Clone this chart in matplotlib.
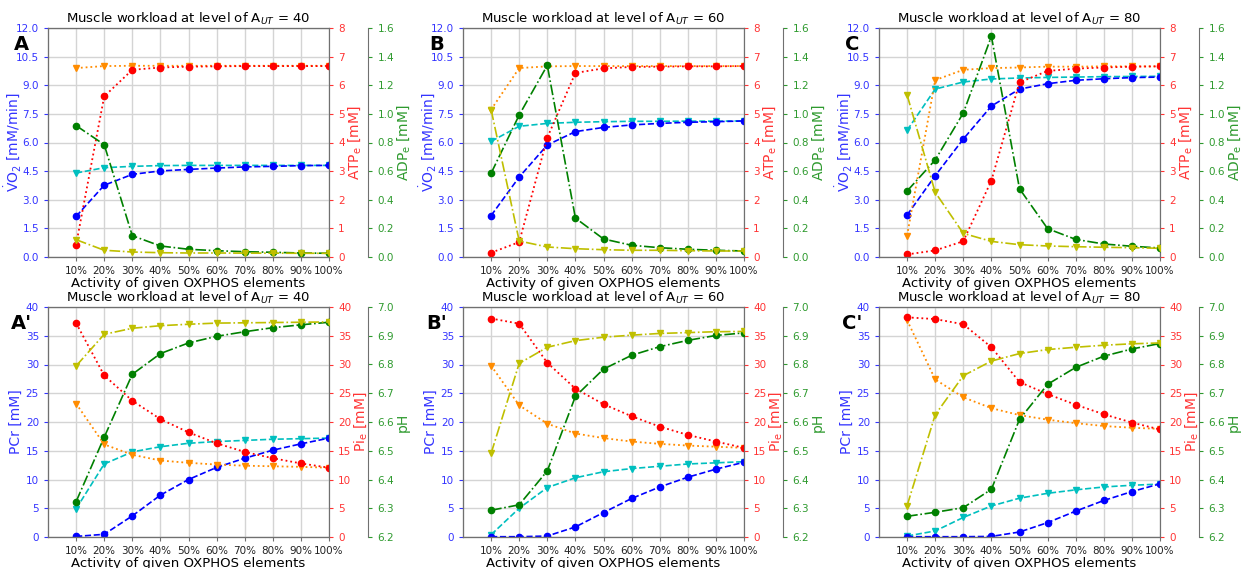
import matplotlib

matplotlib.use("Agg")
import matplotlib.pyplot as plt
from matplotlib.ticker import MultipleLocator

pct_labels = ["10%", "20%", "30%", "40%", "50%", "60%", "70%", "80%", "90%", "100%"]
x_pos = list(range(1, 11))
levels = [40, 60, 80]

# top row: VO2 (left), ATPe (red), ADPe (green); *_alt = triangle series
vo2_40 = [2.13, 3.76, 4.33, 4.51, 4.59, 4.66, 4.72, 4.75, 4.79, 4.80]
vo2_alt_40 = [4.40, 4.68, 4.75, 4.79, 4.80, 4.80, 4.80, 4.80, 4.80, 4.80]
atp_40 = [0.43, 5.61, 6.54, 6.62, 6.65, 6.66, 6.67, 6.67, 6.67, 6.67]
atp_alt_40 = [6.60, 6.67, 6.68, 6.68, 6.68, 6.68, 6.68, 6.68, 6.68, 6.68]
adp_40 = [0.918, 0.785, 0.149, 0.077, 0.054, 0.044, 0.037, 0.033, 0.028, 0.026]
adp_alt_40 = [0.121, 0.047, 0.035, 0.030, 0.028, 0.028, 0.027, 0.027, 0.026, 0.026]

vo2_60 = [2.17, 4.19, 5.87, 6.57, 6.79, 6.92, 7.00, 7.06, 7.09, 7.13]
vo2_alt_60 = [6.06, 6.85, 7.00, 7.06, 7.09, 7.11, 7.11, 7.12, 7.12, 7.13]
atp_60 = [0.15, 0.52, 4.17, 6.43, 6.59, 6.64, 6.65, 6.66, 6.66, 6.67]
atp_alt_60 = [5.15, 6.60, 6.66, 6.67, 6.67, 6.67, 6.67, 6.67, 6.67, 6.67]
adp_60 = [0.585, 0.992, 1.339, 0.272, 0.126, 0.082, 0.065, 0.054, 0.047, 0.042]
adp_alt_60 = [1.030, 0.112, 0.070, 0.058, 0.051, 0.047, 0.047, 0.044, 0.042, 0.042]

vo2_80 = [2.20, 4.26, 6.18, 7.91, 8.80, 9.08, 9.26, 9.34, 9.40, 9.43]
vo2_alt_80 = [6.64, 8.80, 9.17, 9.33, 9.38, 9.41, 9.43, 9.45, 9.46, 9.47]
atp_80 = [0.09, 0.23, 0.55, 2.67, 6.10, 6.50, 6.58, 6.62, 6.65, 6.66]
atp_alt_80 = [0.75, 6.18, 6.54, 6.60, 6.62, 6.65, 6.65, 6.66, 6.66, 6.66]
adp_80 = [0.461, 0.678, 1.006, 1.542, 0.477, 0.198, 0.123, 0.091, 0.075, 0.063]
adp_alt_80 = [1.132, 0.452, 0.165, 0.109, 0.086, 0.077, 0.072, 0.068, 0.065, 0.061]

# bottom row: PCr (left), Pie (red), pH (green)
pcr_40 = [0.1, 0.47, 3.67, 7.28, 10.0, 12.1, 13.7, 15.1, 16.2, 17.2]
pcr_alt_40 = [4.9, 12.7, 14.8, 15.7, 16.3, 16.6, 16.8, 17.0, 17.1, 17.2]
pi_40 = [37.2, 28.1, 23.7, 20.5, 18.2, 16.3, 14.8, 13.7, 12.8, 12.05]
pi_alt_40 = [23.2, 16.1, 14.3, 13.3, 12.9, 12.6, 12.4, 12.3, 12.2, 12.05]
ph_40 = [6.323, 6.547, 6.766, 6.838, 6.875, 6.898, 6.914, 6.928, 6.938, 6.947]
ph_alt_40 = [6.795, 6.905, 6.926, 6.935, 6.940, 6.944, 6.945, 6.946, 6.947, 6.948]

pcr_60 = [0.05, 0.05, 0.17, 1.75, 4.25, 6.7, 8.7, 10.4, 11.8, 13.0]
pcr_alt_60 = [0.4, 5.0, 8.6, 10.3, 11.35, 11.9, 12.3, 12.7, 12.9, 13.1]
pi_60 = [38.0, 37.1, 30.3, 25.8, 23.1, 21.0, 19.2, 17.75, 16.6, 15.5]
pi_alt_60 = [29.8, 22.9, 19.7, 18.0, 17.2, 16.6, 16.2, 15.9, 15.7, 15.5]
ph_60 = [6.293, 6.312, 6.430, 6.689, 6.784, 6.832, 6.862, 6.884, 6.901, 6.910]
ph_alt_60 = [6.491, 6.804, 6.860, 6.883, 6.895, 6.902, 6.908, 6.911, 6.914, 6.915]

pcr_80 = [0.05, 0.05, 0.05, 0.1, 0.87, 2.5, 4.5, 6.35, 7.9, 9.25]
pcr_alt_80 = [0.17, 1.05, 3.4, 5.4, 6.75, 7.6, 8.2, 8.7, 9.0, 9.2]
pi_80 = [38.2, 37.9, 37.0, 33.0, 26.95, 24.85, 23.0, 21.35, 19.9, 18.7]
pi_alt_80 = [37.7, 27.4, 24.3, 22.4, 21.2, 20.4, 19.8, 19.3, 19.0, 18.8]
ph_80 = [6.272, 6.286, 6.302, 6.366, 6.609, 6.731, 6.790, 6.829, 6.854, 6.873]
ph_alt_80 = [6.309, 6.625, 6.761, 6.812, 6.838, 6.852, 6.860, 6.867, 6.872, 6.875]

BLUE_TXT = "#3434ff"
RED_TXT = "#ff3434"
GREEN_TXT = "#2e9a2e"
SPINE = "#707070"


def style_axis(ax, color):
    ax.tick_params(axis="y", colors=color, labelsize=7.5, length=3)
    ax.yaxis.label.set_color(color)
    for s in ax.spines.values():
        s.set_color(SPINE)


def draw_panel(fig, rect, letter, level, left, right, green, limits, steps, labels):
    ax = fig.add_axes(rect)
    ax_r = ax.twinx()
    ax_g = ax.twinx()
    ax_g.spines["right"].set_position(("axes", 1.14))

    main, alt = left
    ax.plot(x_pos, alt, color="c", ls="--", marker="v", ms=4.5, lw=1.2)
    ax.plot(x_pos, main, color="b", ls="--", marker="o", ms=4.5, lw=1.2)
    main, alt = right
    ax_r.plot(x_pos, alt, color="darkorange", ls=":", marker="v", ms=4.5, lw=1.3)
    ax_r.plot(x_pos, main, color="r", ls=":", marker="o", ms=4.5, lw=1.3)
    main, alt = green
    ax_g.plot(x_pos, main, color="g", ls="-.", marker="o", ms=4.5, lw=1.2)
    ax_g.plot(x_pos, alt, color="y", ls="-.", marker="v", ms=4.5, lw=1.2)

    for a, lim, step, lab, col in zip(
        (ax, ax_r, ax_g), limits, steps, labels, (BLUE_TXT, RED_TXT, GREEN_TXT)
    ):
        a.set_ylim(*lim)
        a.yaxis.set_major_locator(MultipleLocator(step))
        a.set_ylabel(lab, fontsize=10, labelpad=1)
        style_axis(a, col)
    ax.yaxis.set_label_coords(-0.088, 0.5)

    ax.set_xlim(0, 10)
    ax.set_xticks(x_pos)
    ax.set_xticklabels(pct_labels)
    ax.tick_params(axis="x", labelsize=7.5, colors=SPINE, labelcolor="#222222", length=3)
    ax.grid(True, color="#d4d4d4", lw=1.0)
    ax.set_axisbelow(True)
    ax.set_xlabel("Activity of given OXPHOS elements", fontsize=9.5, labelpad=1)
    ax.set_title(f"Muscle workload at level of A$_{{UT}}$ = {level}", fontsize=9.5, pad=4)
    ax.text(-0.095, 0.93, letter, transform=ax.transAxes, fontsize=14,
            fontweight="bold", ha="center", va="center")


fig = plt.figure(figsize=(12.48, 5.68), dpi=100)

lefts = [48 / 1248, 463 / 1248, 879 / 1248]
width = 281 / 1248
top_rect_y, top_h = 1 - 257 / 568, 229 / 568
bot_rect_y, bot_h = 1 - 537 / 568, 230 / 568

top_data = [
    (vo2_40, vo2_alt_40, atp_40, atp_alt_40, adp_40, adp_alt_40),
    (vo2_60, vo2_alt_60, atp_60, atp_alt_60, adp_60, adp_alt_60),
    (vo2_80, vo2_alt_80, atp_80, atp_alt_80, adp_80, adp_alt_80),
]
bot_data = [
    (pcr_40, pcr_alt_40, pi_40, pi_alt_40, ph_40, ph_alt_40),
    (pcr_60, pcr_alt_60, pi_60, pi_alt_60, ph_60, ph_alt_60),
    (pcr_80, pcr_alt_80, pi_80, pi_alt_80, ph_80, ph_alt_80),
]

top_labels = (r"$\dot{\mathrm{V}}\mathrm{O}_2$ [mM/min]", r"ATP$_\mathrm{e}$ [mM]", r"ADP$_\mathrm{e}$ [mM]")
bot_labels = ("PCr [mM]", r"Pi$_\mathrm{e}$ [mM]", "pH")

for i, (letter, level) in enumerate(zip("ABC", levels)):
    d = top_data[i]
    draw_panel(fig, [lefts[i], top_rect_y, width, top_h], letter, level,
               (d[0], d[1]), (d[2], d[3]), (d[4], d[5]),
               ((0, 12), (0, 8), (0, 1.6)), (1.5, 1, 0.2), top_labels)
    d = bot_data[i]
    draw_panel(fig, [lefts[i], bot_rect_y, width, bot_h], letter + "'", level,
               (d[0], d[1]), (d[2], d[3]), (d[4], d[5]),
               ((0, 40), (0, 40), (6.2, 7.0)), (5, 5, 0.1), bot_labels)

fig.savefig("out.png", dpi=100)
